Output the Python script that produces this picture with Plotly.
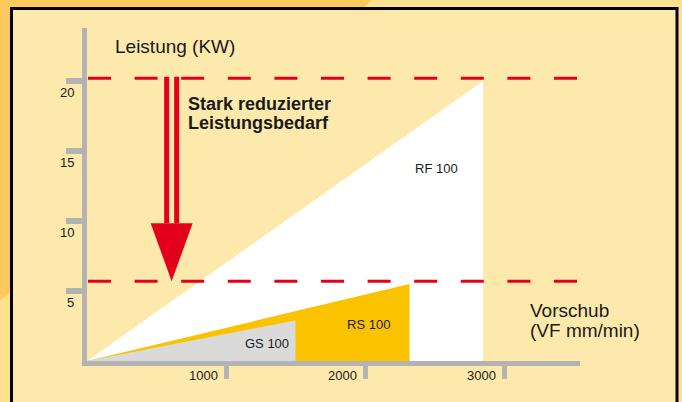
import plotly.graph_objects as go

W, H = 682, 402

# ---------------- data ----------------
feed_ticks = [1000, 2000, 3000]
feed_tick_labels = ["1000", "2000", "3000"]
power_ticks = [5, 10, 15, 20]
power_tick_labels = ["5", "10", "15", "20"]

series_names = ["RF 100", "RS 100", "GS 100"]
series_max_feed = [2850, 2320, 1500]      # VF mm/min
series_max_power = [20.0, 5.5, 2.9]       # kW
power_levels = [20.2, 5.7]                # dashed levels: before / after
arrow_feed = 609                          # feed position of the reduction arrow

# ---------------- styles / layout ----------------
series_colors = ["#FFFFFF", "#FBC200", "#DADADA"]
RED = "#E3001B"
GRAY = "#B3B3B3"
TXT = "#1A1A1A"
FONT = "Liberation Sans, Arial, sans-serif"

def px(x):
    return x / W

def py(y):
    return 1 - y / H

# plot area in pixels
L, R, T, B = 87, 580, 28, 361
x_scale = 0.139   # px per mm/min
y_scale = 14.0    # px per kW
x_range = [0, (R - L) / x_scale]
y_range = [0, (B - T) / y_scale]

fig = go.Figure()

for name, f, p, c in zip(series_names, series_max_feed, series_max_power, series_colors):
    fig.add_trace(go.Scatter(
        x=[0, f, f, 0], y=[0, p, 0, 0], fill="toself", fillcolor=c,
        mode="lines", line=dict(width=0, color=c), name=name,
        hoverinfo="skip", showlegend=False))

shapes = []
# outer light swoosh over orange background
swoosh = "M {},{} L {},{} L {},{} L {},{} L {},{} Q {},{} {},{} Z".format(
    px(372), py(0), px(W), py(0), px(W), py(H), px(0), py(H), px(0), py(300),
    px(190), py(170), px(372), py(0))
shapes.append(dict(type="path", path=swoosh, xref="paper", yref="paper",
                   fillcolor="#FEE08F", line=dict(width=0), layer="below"))
# inner framed panel
shapes.append(dict(type="rect", xref="paper", yref="paper",
                   x0=px(11.5), x1=px(677), y0=py(H + 10), y1=py(8.5),
                   fillcolor="#FEE9AC", line=dict(color="#000000", width=3),
                   layer="below"))

# dashed power levels
x_dash0 = 1 / x_scale
x_dash1 = (578 - L) / x_scale
for lvl in power_levels:
    shapes.append(dict(type="line", xref="x", yref="y",
                       x0=x_dash0, x1=x_dash1, y0=lvl, y1=lvl,
                       line=dict(color=RED, width=3, dash="23px,23.6px")))

# reduction arrow: double shaft + head, from high level to low level
shaft_off = 5.0 / x_scale
head_half = 21.0 / x_scale
head_top = power_levels[1] + 58 / y_scale
for s in (-1, 1):
    shapes.append(dict(type="line", xref="x", yref="y",
                       x0=arrow_feed + s * shaft_off, x1=arrow_feed + s * shaft_off,
                       y0=power_levels[0] + 1.5 / y_scale, y1=head_top,
                       line=dict(color=RED, width=5)))
shapes.append(dict(type="path", xref="x", yref="y",
                   path="M {},{} L {},{} L {},{} Z".format(
                       arrow_feed - head_half, head_top,
                       arrow_feed + head_half, head_top,
                       arrow_feed, power_levels[1]),
                   fillcolor=RED, line=dict(width=0)))

annotations = []
# tick labels
for v, t in zip(power_ticks, power_tick_labels):
    annotations.append(dict(x=0, y=v, xref="x", yref="y", text=t, showarrow=False,
                            xanchor="right", yanchor="middle", xshift=-11, yshift=-11,
                            font=dict(family=FONT, size=13, color=TXT)))
for v, t in zip(feed_ticks, feed_tick_labels):
    annotations.append(dict(x=v, y=0, xref="x", yref="y", text=t, showarrow=False,
                            xanchor="right", yanchor="middle", xshift=-6, yshift=-14,
                            font=dict(family=FONT, size=13, color=TXT)))

def txt(x, y, s, size, anchor="left", bold=False):
    annotations.append(dict(x=px(x), y=py(y), xref="paper", yref="paper", text=s,
                            showarrow=False, xanchor=anchor, yanchor="middle",
                            font=dict(family=FONT, size=size, color=TXT,
                                      weight="bold" if bold else "normal")))

txt(113, 46, "Leistung (KW)", 19)
txt(186, 104, "Stark reduzierter", 18, bold=True)
txt(186, 123, "Leistungsbedarf", 18, bold=True)
txt(528, 310, "Vorschub", 19)
txt(528, 330, "(VF mm/min)", 19)
label_pos = [(436, 168), (368, 324), (267, 343)]
for name, (lx, ly) in zip(series_names, label_pos):
    txt(lx, ly, name, 13, anchor="center")

axis_common = dict(showgrid=False, zeroline=False, showline=True, linecolor=GRAY,
                   ticks="outside", tickcolor=GRAY, showticklabels=False,
                   fixedrange=True)

fig.update_layout(
    width=W, height=H, margin=dict(l=0, r=0, t=0, b=0),
    paper_bgcolor="#FCC95C", plot_bgcolor="rgba(0,0,0,0)",
    xaxis=dict(domain=[px(L), px(R)], range=x_range, tickvals=feed_ticks,
               linewidth=5, ticklen=13, tickwidth=5, **axis_common),
    yaxis=dict(domain=[py(B), py(T)], range=y_range, tickvals=power_ticks,
               linewidth=5, ticklen=16, tickwidth=6, **axis_common),
    shapes=shapes, annotations=annotations, showlegend=False,
)

fig.write_html("out.html", config={"displayModeBar": False},
               post_script="document.body.style.margin='0';document.body.style.padding='0';")
